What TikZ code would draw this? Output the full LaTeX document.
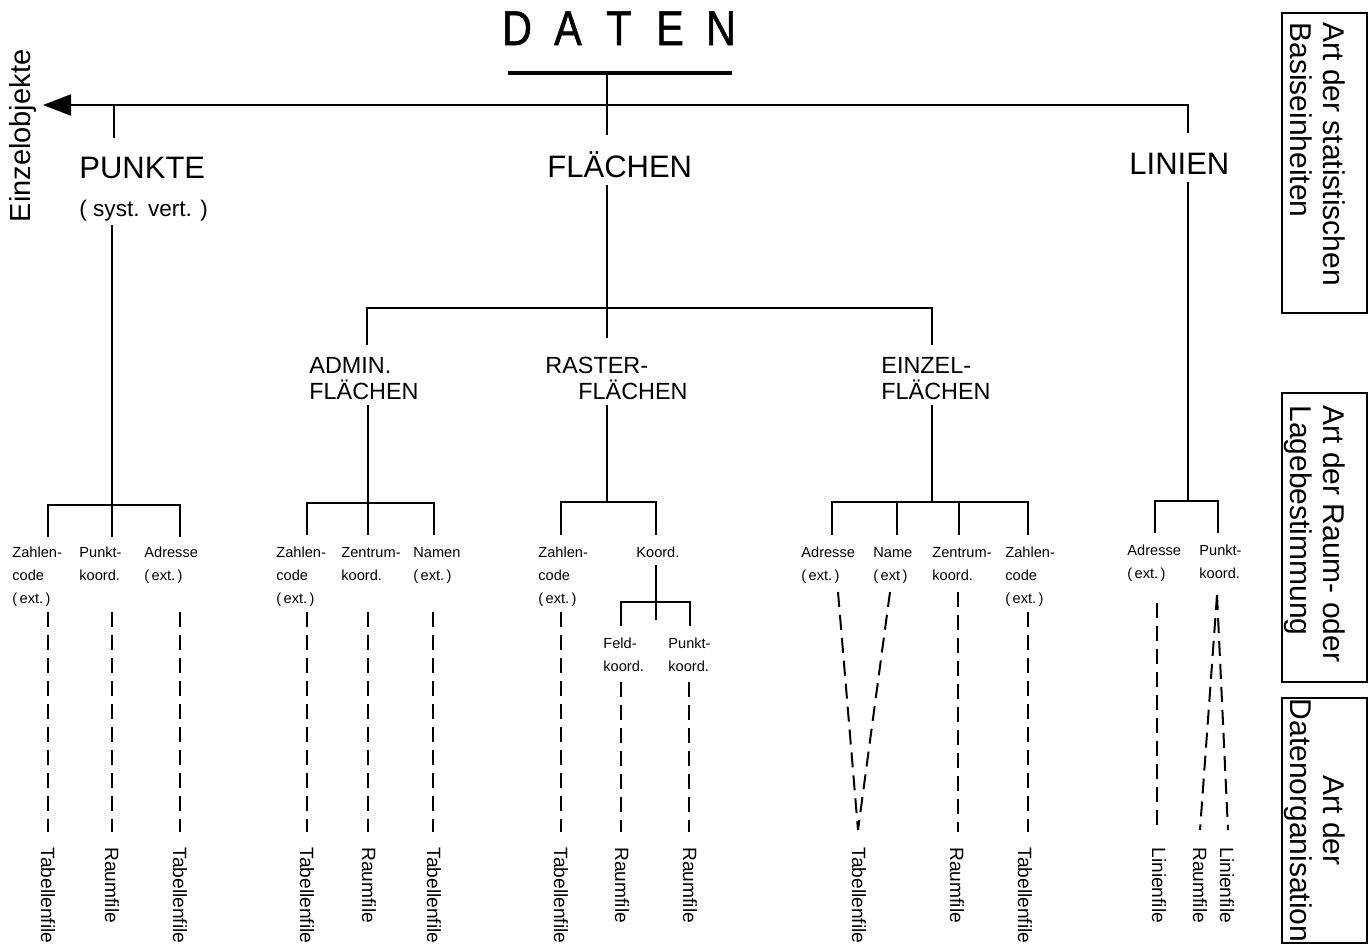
\documentclass[tikz,border=0pt]{standalone}
\usepackage{fontspec}
\setmainfont{Liberation Sans}
\newfontfamily\dfont[FakeStretch=0.85,FakeBold=1]{Liberation Sans}
\usetikzlibrary{arrows.meta}
\begin{document}
\begin{tikzpicture}[x=0.5pt,y=-0.5pt,
  ln/.style={line width=1pt},
  dl/.style={line width=1pt, dash pattern=on 7.5pt off 4pt},
  big/.style={font=\fontsize{15.5}{18}\selectfont, inner sep=0pt, anchor=base west},
  mid/.style={font=\fontsize{11.7}{13}\selectfont, inner sep=0pt, anchor=north west, align=left},
  sm/.style={font=\fontsize{7.3}{11.5}\selectfont, inner sep=0pt, anchor=north west, align=left},
  fl/.style={font=\fontsize{9.6}{11}\selectfont, inner sep=0pt, rotate=-90, anchor=west},
  bx/.style={font=\fontsize{15}{16.5}\selectfont, inner sep=0pt, rotate=-90},
  boxr/.style={draw, line width=1pt, inner sep=0pt, minimum width=42.5pt},
]
\useasboundingbox (0,0) rectangle (1370,949);
\fill[white] (0,0) rectangle (1370,949);

% title
\node[font=\dfont\fontsize{24.4}{26}\selectfont, inner sep=0pt, anchor=base] (daten) at (619,45)
  {\makebox[25.5pt]{D}\makebox[25.5pt]{A}\makebox[25.5pt]{T}\makebox[25.5pt]{E}\makebox[25.5pt]{N}};
\coordinate (barL) at (508,73);
\coordinate (barR) at (732,73);
\coordinate (barC) at (607,73);
\draw[line width=2pt] (barL) -- (barR);

% level 1
\node[big] (punkte) at (79,178) {PUNKTE};
\node[font=\fontsize{11.3}{13}\selectfont, inner sep=0pt, anchor=base west] (syst) at (79,216) {( syst. vert. )};
\node[big] (flaechen) at (547,177) {FLÄCHEN};
\node[big] (linien) at (1129,174) {LINIEN};
\node[font=\fontsize{14.5}{16}\selectfont, rotate=90, inner sep=0pt] (einzelobj) at (23,136) {Einzelobjekte};

\coordinate (tip) at (43,105);
\coordinate (lin) at (1188,133);
\draw[ln,-{Triangle[length=14pt,width=10.5pt]}] (lin) |- (tip);
\draw[ln] (114,105) -- (114,138);
\draw[ln] (barC) -- (607,135);

% Flaechen tree
\draw[ln] (607,185) -- (607,338);
\draw[ln] (367,345) |- (932,308) -- (932,345);
\node[mid] (admin) at (309,357) {ADMIN.\\FLÄCHEN};
\node[mid] (raster) at (545,357) {RASTER-\\\hspace*{16.5pt}FLÄCHEN};
\node[mid] (einzel) at (881,357) {EINZEL-\\FLÄCHEN};

% verticals to level 3
\draw[ln] (112,225) -- (112,505);
\draw[ln] (368,405) -- (368,503);
\draw[ln] (607,405) -- (607,502);
\draw[ln] (932,405) -- (932,502);
\draw[ln] (1188,182) -- (1188,501);

% bars
\draw[ln] (48,537) |- (180,505) -- (180,537);
\draw[ln] (112,505) -- (112,537);
\draw[ln] (307,535) |- (434,503) -- (434,535);
\draw[ln] (368,503) -- (368,535);
\draw[ln] (561,535) |- (656,502) -- (656,535);
\draw[ln] (656,565) -- (656,620);
\draw[ln] (621,626) |- (690,602) -- (690,626);
\draw[ln] (832,535) |- (1028,502) -- (1028,535);
\draw[ln] (897,502) -- (897,535);
\draw[ln] (959,502) -- (959,535);
\draw[ln] (1155,533) |- (1218,501) -- (1218,533);

% small labels
\node[sm] (pz) at (12,547) {Zahlen-\\code\\(\,ext.\,)};
\node[sm] (pp) at (79,547) {Punkt-\\koord.};
\node[sm] (pa) at (144,547) {Adresse\\(\,ext.\,)};
\node[sm] (az) at (276,547) {Zahlen-\\code\\(\,ext.\,)};
\node[sm] (azk) at (341,547) {Zentrum-\\koord.};
\node[sm] (an) at (413,547) {Namen\\(\,ext.\,)};
\node[sm] (rz) at (538,547) {Zahlen-\\code\\(\,ext.\,)};
\node[sm] (rk) at (636,547) {Koord.};
\node[sm] (rf) at (603,638) {Feld-\\koord.};
\node[sm] (rp) at (668,638) {Punkt-\\koord.};
\node[sm] (ea) at (801,547) {Adresse\\(\,ext.\,)};
\node[sm] (en) at (873,547) {Name\\(\,ext\,)};
\node[sm] (ezk) at (932,547) {Zentrum-\\koord.};
\node[sm] (ez) at (1005,547) {Zahlen-\\code\\(\,ext.\,)};
\node[sm] (la) at (1127,545) {Adresse\\(\,ext.\,)};
\node[sm] (lp) at (1199,545) {Punkt-\\koord.};

% dashed
\draw[dl] (48,612) -- (48,832);
\draw[dl] (112,612) -- (112,832);
\draw[dl] (180,612) -- (180,832);
\draw[dl] (307,612) -- (307,832);
\draw[dl] (368,612) -- (368,832);
\draw[dl] (433,612) -- (433,832);
\draw[dl] (561,612) -- (561,832);
\draw[dl] (621,682) -- (621,832);
\draw[dl] (689,682) -- (689,832);
\draw[dl] (838,592) -- (858,830);
\draw[dl] (890,592) -- (858,830);
\draw[dl] (958,592) -- (958,832);
\draw[dl] (1028,612) -- (1028,832);
\draw[dl] (1157,603) -- (1157,830);
\draw[dl] (1217,595) -- (1200,830);
\draw[dl] (1217,595) -- (1228,830);

% bottom labels
\node[fl] (f1) at (48,847) {Tabellenfile};
\node[fl] (f2) at (112,847) {Raumfile};
\node[fl] (f3) at (180,847) {Tabellenfile};
\node[fl] (f4) at (307,847) {Tabellenfile};
\node[fl] (f5) at (369,847) {Raumfile};
\node[fl] (f6) at (434,847) {Tabellenfile};
\node[fl] (f7) at (561,847) {Tabellenfile};
\node[fl] (f8) at (622,847) {Raumfile};
\node[fl] (f9) at (690,847) {Raumfile};
\node[fl] (f10) at (859,847) {Tabellenfile};
\node[fl] (f11) at (957,847) {Raumfile};
\node[fl] (f12) at (1025,847) {Tabellenfile};
\node[fl] (f13) at (1159,847) {Linienfile};
\node[fl] (f14) at (1200,847) {Raumfile};
\node[fl] (f15) at (1227,847) {Linienfile};

% right boxes
\node[boxr, minimum height=150pt] (box1) at (1324.5,163) {};
\node[boxr, minimum height=144.5pt] (box2) at (1324.5,537.5) {};
\node[boxr, minimum height=122.5pt] (box3) at (1324.5,820.5) {};
\node[bx, anchor=north west, align=left] (t1) at (1346,22) {Art der statistischen\\Basiseinheiten};
\node[bx, anchor=north west, align=left] (t2) at (1346,405) {Art der Raum- oder\\Lagebestimmung};
\node[bx, anchor=north, align=center] (t3) at (1346,820.5) {Art der\\Datenorganisation};
\end{tikzpicture}
\end{document}
